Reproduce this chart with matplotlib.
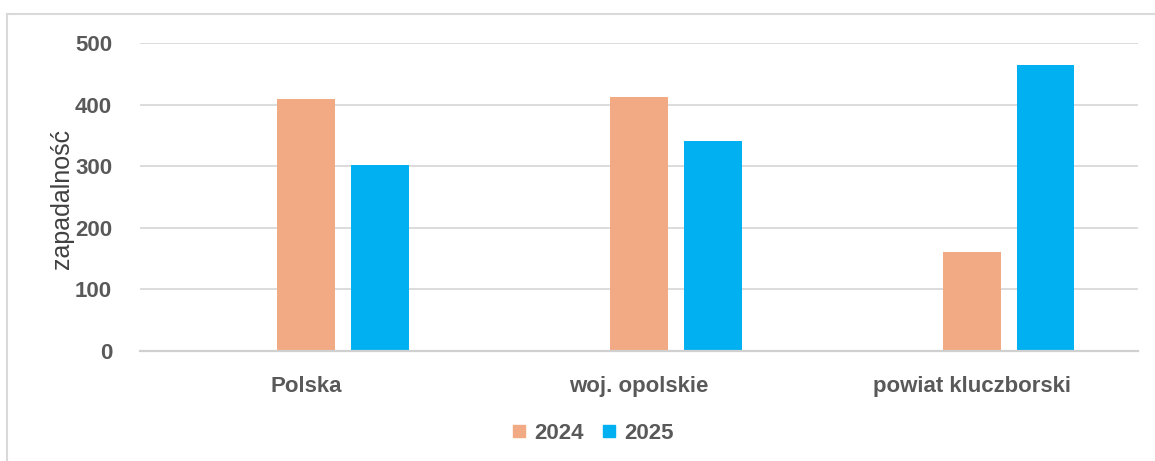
import matplotlib
matplotlib.use("Agg")
import matplotlib.pyplot as plt
import numpy as np
from matplotlib.lines import Line2D

categories = ["Polska", "woj. opolskie", "powiat kluczborski"]
series_names = ["2024", "2025"]
values_prev = [-1.2, 0, 0]          # tiny unlabeled series (not in legend)
values_2024 = [409, 412, 161]
values_2025 = [302, 341, 464]
yticks = [0, 100, 200, 300, 400, 500]
ylabel = "zapadalność"

plt.rcParams['font.family'] = ['Liberation Sans', 'DejaVu Sans']

fig = plt.figure(figsize=(11.55, 4.61), dpi=100)
ax = fig.add_axes([140/1155, 1-351/461, (1138-140)/1155, (351-43)/461])

x = np.arange(len(categories))
w = 0.174
off = 0.222
c_prev = "#A9CCE3"
c24 = "#F2AA84"
c25 = "#00B0F0"
ax.bar(x - off, values_prev, w, color=c_prev, zorder=2, clip_on=False)
ax.bar(x, values_2024, w, color=c24, zorder=2, label=series_names[0])
ax.bar(x + off, values_2025, w, color=c25, zorder=2, label=series_names[1])

ax.set_xlim(-0.5, len(categories) - 0.5)
ax.set_ylim(0, 500)
ax.set_yticks(yticks)
ax.set_yticklabels([str(t) for t in yticks], fontsize=16, fontweight='bold', color='#595959')
ax.set_xticks(x)
ax.set_xticklabels(categories, fontsize=16, fontweight='bold', color='#595959')
ax.tick_params(axis='y', length=0, pad=20)
ax.tick_params(axis='x', length=0, pad=18)
ax.grid(axis='y', color='#D9D9D9', linewidth=1.3, zorder=0)
ax.set_axisbelow(True)
for s in ['top', 'right', 'left']:
    ax.spines[s].set_visible(False)
ax.spines['bottom'].set_color('#D0D0D0')
ax.spines['bottom'].set_linewidth(1.6)
ax.spines['bottom'].set_zorder(3)

fig.text(62/1155, 1-199/461, ylabel, rotation=90, fontsize=18, color='#404040',
         ha='center', va='center')

handles = [Line2D([], [], marker='s', linestyle='none', markersize=8.5, color=c24),
           Line2D([], [], marker='s', linestyle='none', markersize=8.5, color=c25)]
leg = fig.legend(handles, series_names, loc='center', bbox_to_anchor=(592/1155, 1-433/461),
                 ncol=2, frameon=False, handlelength=0.8, handletextpad=0.3, columnspacing=0.7,
                 prop={'size': 16, 'weight': 'bold'})
for t in leg.get_texts():
    t.set_color('#595959')

# outer chart border (top and left visible)
fig.add_artist(Line2D([7/1155, 1], [1-14/461, 1-14/461], color='#D9D9D9', linewidth=1.5,
                      transform=fig.transFigure))
fig.add_artist(Line2D([7/1155, 7/1155], [0, 1-14/461], color='#D9D9D9', linewidth=1.5,
                      transform=fig.transFigure))

fig.savefig("out.png", dpi=100)
